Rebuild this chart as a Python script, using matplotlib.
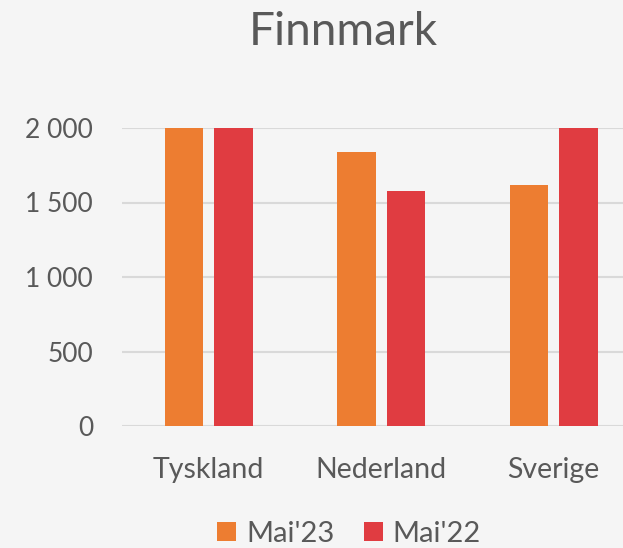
import matplotlib
matplotlib.use("Agg")
import matplotlib.pyplot as plt
from matplotlib.patches import Patch
from matplotlib.ticker import FuncFormatter

categories = ["Tyskland", "Nederland", "Sverige"]
series_names = ["Mai'23", "Mai'22"]
mai23 = [2300, 1840, 1620]
mai22 = [2450, 1580, 2350]
yticks = [0, 500, 1000, 1500, 2000]
title = "Finnmark"

colors = ["#ED7D31", "#E03C41"]
bg = "#F5F5F5"
txt = "#595959"
grid = "#D9D9D9"

plt.rcParams["font.family"] = ["Lato", "DejaVu Sans"]

W, H = 623, 548
fig = plt.figure(figsize=(W / 100, H / 100), dpi=100, facecolor=bg)
left, right, top, bottom = 122.4, 640, 128, 426
ax = fig.add_axes([left / W, 1 - bottom / H, (right - left) / W, (bottom - top) / H])
ax.set_facecolor(bg)

x = list(range(len(categories)))
bw = 0.223
off = 0.143
ax.bar([i - off for i in x], mai23, width=bw, color=colors[0], zorder=2)
ax.bar([i + off for i in x], mai22, width=bw, color=colors[1], zorder=2)

ax.set_xlim(-0.5, len(categories) - 0.5)
ax.set_ylim(0, 2000)
ax.set_yticks(yticks)
ax.yaxis.set_major_formatter(FuncFormatter(lambda v, p: f"{int(v):,}".replace(",", " ")))
ax.set_xticks(x)
ax.set_xticklabels(categories)
ax.grid(axis="y", color=grid, linewidth=1.5, zorder=0)
ax.set_axisbelow(True)
for s in ax.spines.values():
    s.set_visible(False)
ax.tick_params(axis="both", length=0, labelcolor=txt, labelsize=19)
ax.tick_params(axis="y", pad=21)
ax.tick_params(axis="x", pad=22, labelsize=20.5)

fig.text(343 / W, 1 - 45 / H, title, ha="center", va="baseline", fontsize=33, color=txt)

handles = [Patch(facecolor=c, edgecolor="none") for c in colors]
fig.legend(handles, series_names, loc="lower center", bbox_to_anchor=(349 / W, 1 / H),
           ncol=2, frameon=False, fontsize=21, labelcolor=txt,
           handlelength=0.65, handleheight=0.65, handletextpad=0.35, columnspacing=1.0,
           borderpad=0, borderaxespad=0)

fig.savefig("out.png", dpi=100, facecolor=bg)
